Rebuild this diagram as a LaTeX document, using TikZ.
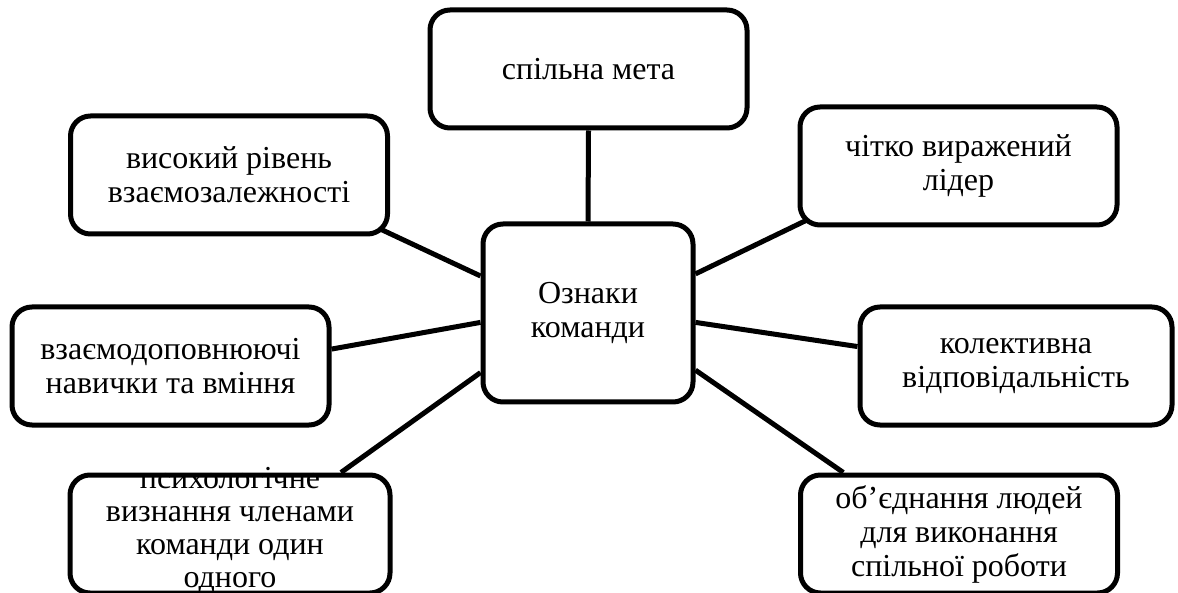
\documentclass[tikz,border=0pt]{standalone}
\usepackage{fontspec}
\setmainfont{Liberation Serif}
\usetikzlibrary{positioning,backgrounds}

\begin{document}
\begin{tikzpicture}[x={(1pt,0pt)},y={(0pt,-1pt)},
  box/.style={draw, fill=white, line width=5pt, rounded corners=20pt, minimum width=317pt, minimum height=118pt, align=center, font=\fontsize{32}{34}\selectfont},
  link/.style={line width=5pt}]
\useasboundingbox (0,0) rectangle (1178,593);
\clip (0,0) rectangle (1178,593);
%中心
\node[box, minimum width=210pt, minimum height=178pt] (ozn) at (588,313) {Ознаки\\команди};
%外圍
\node[box] (meta) at (588.5,69) {спільна мета};
\node[box] (vzaiem) at (229,175) {високий рівень\\взаємозалежності};
\node[box] (lider) at (958.5,166) {чітко виражений\\лідер};
\node[box] (navych) at (170.5,366) {взаємодоповнюючі\\навички та вміння};
\node[box, minimum width=312pt] (vidp) at (1016,366) {колективна\\відповідальність};
\node[box, minimum width=320pt] (psyh) at (230,534) {};
\node[align=center, font=\fontsize{32}{33}\selectfont] (psyhtext) at (230,530) {психологічне\\визнання членами\\команди один\\одного};
\node[box] (obied) at (959,534) {об’єднання людей\\для виконання\\спільної роботи};

\begin{scope}[on background layer]
\draw[link] (meta.south) -- (ozn.north);
\draw[link, shorten <=-10pt] (vzaiem.-20) -- (ozn.161.6);
\draw[link] (navych.6.5) -- (ozn.185.4);
\draw[link] (psyh.29) -- (ozn.209.3);
\draw[link, shorten <=-10pt] (lider.200.3) -- (ozn.20.9);
\draw[link] (vidp.173.4) -- (ozn.-5.4);
\draw[link] (obied.152.2) -- (ozn.-28.5);
\end{scope}
\end{tikzpicture}
\end{document}
